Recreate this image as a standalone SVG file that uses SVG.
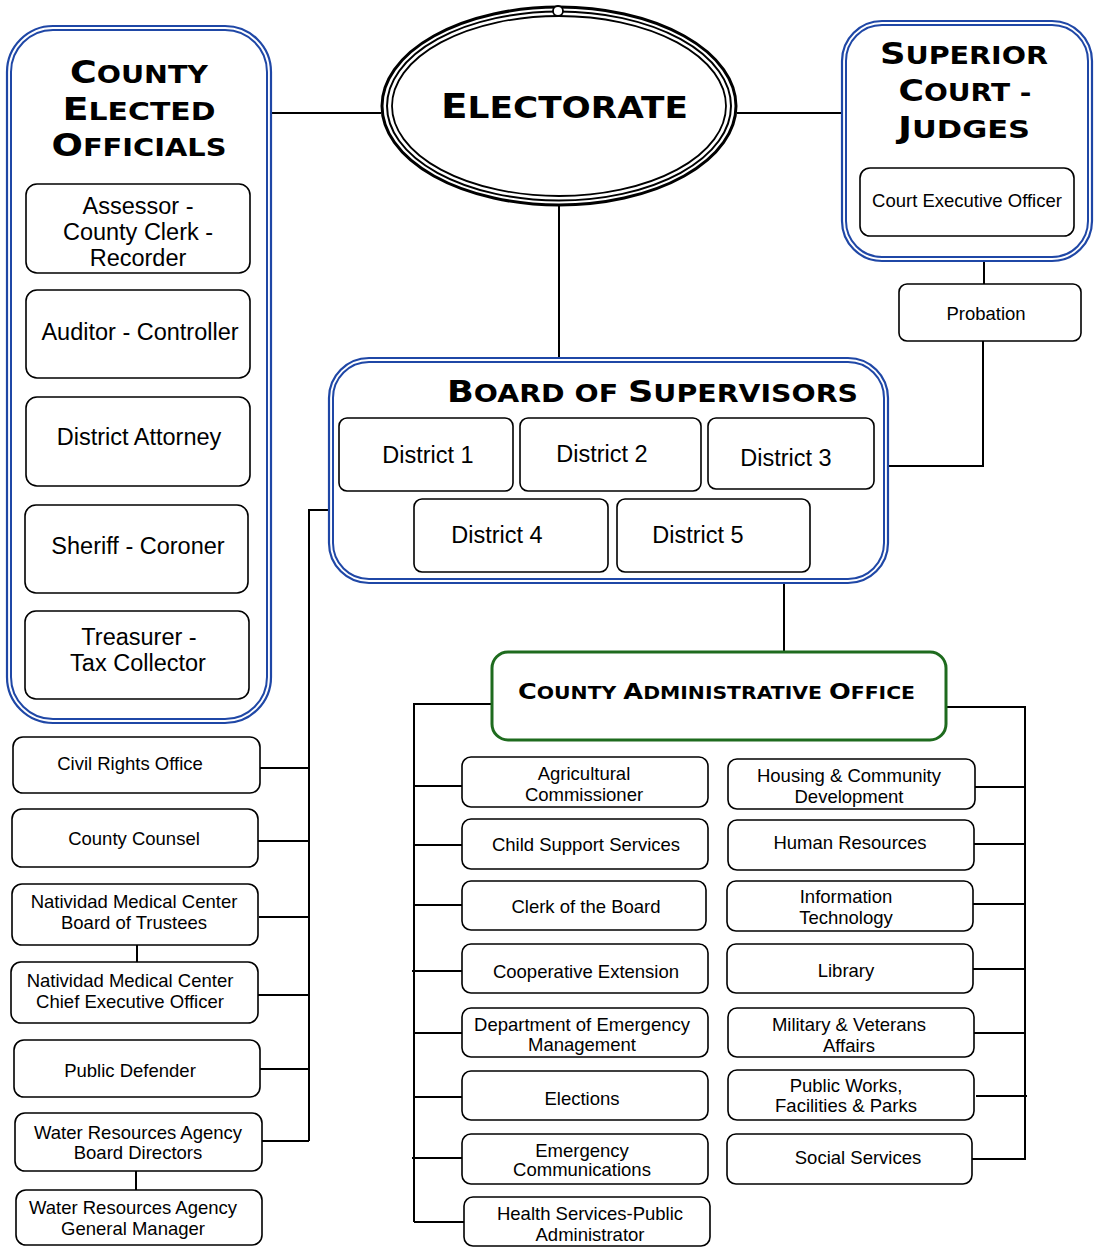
<svg xmlns="http://www.w3.org/2000/svg" width="1094" height="1247" viewBox="0 0 1094 1247">
<style>
.box{fill:#fff;stroke:#000;stroke-width:1.6}
.bo{fill:#fff;stroke:#1f47a6;stroke-width:2.2}
.bi{fill:none;stroke:#1f47a6;stroke-width:2}
.t{font-family:"Liberation Sans",Arial,sans-serif;font-size:18.5px;text-anchor:middle;fill:#000}
.tl{font-size:23.5px}
.h{font-family:"DejaVu Sans","Liberation Sans",sans-serif;font-weight:bold;text-anchor:middle;fill:#000}
.conn path{stroke:#000;stroke-width:2;fill:none}
</style>
<rect width="1094" height="1247" fill="#fff"/>

<g class="conn">
<path d="M272,113 H381"/>
<path d="M737,113 H841"/>
<path d="M559,205 V358"/>
<path d="M984,262 V284"/>
<path d="M983,341 V466 H889"/>
<path d="M784,584 V652"/>
<path d="M328,510 H309 V1141"/>
<path d="M260,768 H309"/>
<path d="M258,841 H309"/>
<path d="M259,917 H309"/>
<path d="M258,995 H309"/>
<path d="M260,1069 H309"/>
<path d="M262,1141 H309"/>
<path d="M137,945 V962"/>
<path d="M136,1171 V1190"/>
<path d="M492,704 H414 V1222"/>
<path d="M414,786 H462"/>
<path d="M414,845 H462"/>
<path d="M414,905 H462"/>
<path d="M412,971 H462"/>
<path d="M414,1033 H462"/>
<path d="M414,1097 H462"/>
<path d="M412,1158 H462"/>
<path d="M414,1222 H464"/>
<path d="M946,707 H1025 V1160"/>
<path d="M975,787 H1025"/>
<path d="M974,844 H1025"/>
<path d="M973,904 H1025"/>
<path d="M973,969 H1025"/>
<path d="M974,1033 H1025"/>
<path d="M976,1096 H1027"/>
<path d="M972,1159 H1025"/>
</g>

<g id="county-elected-officials">
<rect class="bo" x="7" y="26" width="264" height="697" rx="46"/>
<rect class="bi" x="11" y="30" width="256" height="689" rx="42"/>
<text class="h" x="139" y="83" textLength="138" lengthAdjust="spacingAndGlyphs"><tspan font-size="32">C</tspan><tspan font-size="25">OUNTY</tspan></text>
<text class="h" x="139" y="120" textLength="153" lengthAdjust="spacingAndGlyphs"><tspan font-size="32">E</tspan><tspan font-size="25">LECTED</tspan></text>
<text class="h" x="139" y="156" textLength="175" lengthAdjust="spacingAndGlyphs"><tspan font-size="32">O</tspan><tspan font-size="25">FFICIALS</tspan></text>
</g>
<g id="assessor">
<rect class="box" x="26" y="184" width="224" height="89" rx="11"/>
<text class="t tl" x="138" y="214">Assessor -</text>
<text class="t tl" x="138" y="240">County Clerk -</text>
<text class="t tl" x="138" y="266">Recorder</text>
</g>
<g id="auditor">
<rect class="box" x="26" y="290" width="224" height="88" rx="11"/>
<text class="t tl" x="140" y="340">Auditor - Controller</text>
</g>
<g id="district-attorney">
<rect class="box" x="26" y="397" width="224" height="89" rx="11"/>
<text class="t tl" x="139" y="445">District Attorney</text>
</g>
<g id="sheriff">
<rect class="box" x="25" y="505" width="223" height="88" rx="11"/>
<text class="t tl" x="138" y="554">Sheriff - Coroner</text>
</g>
<g id="treasurer">
<rect class="box" x="25" y="611" width="224" height="88" rx="11"/>
<text class="t tl" x="139" y="645">Treasurer -</text>
<text class="t tl" x="138" y="671">Tax Collector</text>
</g>

<g id="electorate">
<ellipse cx="559" cy="106" rx="177" ry="99" fill="#fff" stroke="#000" stroke-width="3"/>
<ellipse cx="559" cy="106" rx="172" ry="94.5" fill="none" stroke="#000" stroke-width="2"/>
<ellipse cx="559" cy="106" rx="167" ry="90" fill="none" stroke="#000" stroke-width="1.8"/>
<circle cx="558" cy="11" r="5" fill="#fff" stroke="#000" stroke-width="1.8"/>
<text class="h" x="564.5" y="118" textLength="247" lengthAdjust="spacingAndGlyphs"><tspan font-size="34">E</tspan><tspan font-size="30">LECTORATE</tspan></text>
</g>

<g id="superior-court">
<rect class="bo" x="842" y="21" width="250" height="240" rx="40"/>
<rect class="bi" x="846" y="25" width="242" height="232" rx="36"/>
<text class="h" x="964" y="64" textLength="168" lengthAdjust="spacingAndGlyphs"><tspan font-size="31">S</tspan><tspan font-size="25">UPERIOR</tspan></text>
<text class="h" x="965" y="101" textLength="133" lengthAdjust="spacingAndGlyphs"><tspan font-size="31">C</tspan><tspan font-size="25">OURT -</tspan></text>
<text class="h" x="964" y="138" textLength="132" lengthAdjust="spacingAndGlyphs"><tspan font-size="31">J</tspan><tspan font-size="25">UDGES</tspan></text>
</g>
<g id="court-executive-officer">
<rect class="box" x="860" y="168" width="214" height="68" rx="10"/>
<text class="t" x="967" y="207">Court Executive Officer</text>
</g>
<g id="probation">
<rect class="box" x="899" y="284" width="182" height="57" rx="8"/>
<text class="t" x="986" y="320">Probation</text>
</g>

<g id="board-of-supervisors">
<rect class="bo" x="329" y="358" width="559" height="225" rx="40"/>
<rect class="bi" x="333" y="362" width="551" height="217" rx="36"/>
<text class="h" x="652.5" y="402" textLength="411" lengthAdjust="spacingAndGlyphs"><tspan font-size="31">B</tspan><tspan font-size="25">OARD OF </tspan><tspan font-size="31">S</tspan><tspan font-size="25">UPERVISORS</tspan></text>
</g>
<g id="district-1"><rect class="box" x="339" y="418" width="174" height="73" rx="8"/><text class="t tl" x="428" y="463">District 1</text></g>
<g id="district-2"><rect class="box" x="520" y="418" width="181" height="73" rx="8"/><text class="t tl" x="602" y="462">District 2</text></g>
<g id="district-3"><rect class="box" x="708" y="418" width="166" height="71" rx="8"/><text class="t tl" x="786" y="466">District 3</text></g>
<g id="district-4"><rect class="box" x="414" y="499" width="194" height="73" rx="8"/><text class="t tl" x="497" y="543">District 4</text></g>
<g id="district-5"><rect class="box" x="617" y="499" width="193" height="73" rx="8"/><text class="t tl" x="698" y="543">District 5</text></g>

<g id="civil-rights"><rect class="box" x="13" y="737" width="247" height="56" rx="10"/><text class="t" x="130" y="770">Civil Rights Office</text></g>
<g id="county-counsel"><rect class="box" x="12" y="809" width="246" height="58" rx="10"/><text class="t" x="134" y="845">County Counsel</text></g>
<g id="nmc-board"><rect class="box" x="12" y="884" width="246" height="61" rx="10"/><text class="t" x="134" y="908">Natividad Medical Center</text><text class="t" x="134" y="929">Board of Trustees</text></g>
<g id="nmc-ceo"><rect class="box" x="11" y="962" width="247" height="61" rx="10"/><text class="t" x="130" y="987">Natividad Medical Center</text><text class="t" x="130" y="1008">Chief Executive Officer</text></g>
<g id="public-defender"><rect class="box" x="14" y="1040" width="246" height="57" rx="10"/><text class="t" x="130" y="1077">Public Defender</text></g>
<g id="wra-board"><rect class="box" x="15" y="1113" width="247" height="58" rx="10"/><text class="t" x="138" y="1139">Water Resources Agency</text><text class="t" x="138" y="1159">Board Directors</text></g>
<g id="wra-gm"><rect class="box" x="16" y="1190" width="246" height="55" rx="10"/><text class="t" x="133" y="1214">Water Resources Agency</text><text class="t" x="133" y="1235">General Manager</text></g>

<g id="cao">
<rect x="492" y="652" width="454" height="88" rx="16" fill="#fff" stroke="#1e6b1e" stroke-width="3"/>
<text class="h" x="716.5" y="699" textLength="397" lengthAdjust="spacingAndGlyphs"><tspan font-size="22">C</tspan><tspan font-size="17.5">OUNTY </tspan><tspan font-size="22">A</tspan><tspan font-size="17.5">DMINISTRATIVE </tspan><tspan font-size="22">O</tspan><tspan font-size="17.5">FFICE</tspan></text>
</g>

<g id="agricultural"><rect class="box" x="462" y="757" width="246" height="50" rx="9"/><text class="t" x="584" y="780">Agricultural</text><text class="t" x="584" y="801">Commissioner</text></g>
<g id="child-support"><rect class="box" x="462" y="819" width="246" height="50" rx="9"/><text class="t" x="586" y="851">Child Support Services</text></g>
<g id="clerk-board"><rect class="box" x="462" y="881" width="244" height="49" rx="9"/><text class="t" x="586" y="913">Clerk of the Board</text></g>
<g id="cooperative"><rect class="box" x="462" y="944" width="246" height="49" rx="9"/><text class="t" x="586" y="978">Cooperative Extension</text></g>
<g id="dem"><rect class="box" x="462" y="1008" width="246" height="49" rx="9"/><text class="t" x="582" y="1031">Department of Emergency</text><text class="t" x="582" y="1051">Management</text></g>
<g id="elections"><rect class="box" x="462" y="1071" width="246" height="49" rx="9"/><text class="t" x="582" y="1105">Elections</text></g>
<g id="emergency-comm"><rect class="box" x="462" y="1134" width="246" height="50" rx="9"/><text class="t" x="582" y="1157">Emergency</text><text class="t" x="582" y="1176">Communications</text></g>
<g id="health"><rect class="box" x="464" y="1197" width="246" height="49" rx="9"/><text class="t" x="590" y="1220">Health Services-Public</text><text class="t" x="590" y="1241">Administrator</text></g>

<g id="housing"><rect class="box" x="728" y="759" width="247" height="50" rx="9"/><text class="t" x="849" y="782">Housing &amp; Community</text><text class="t" x="849" y="803">Development</text></g>
<g id="human-resources"><rect class="box" x="728" y="820" width="246" height="50" rx="9"/><text class="t" x="850" y="849">Human Resources</text></g>
<g id="it"><rect class="box" x="727" y="881" width="246" height="50" rx="9"/><text class="t" x="846" y="903">Information</text><text class="t" x="846" y="924">Technology</text></g>
<g id="library"><rect class="box" x="727" y="944" width="246" height="49" rx="9"/><text class="t" x="846" y="977">Library</text></g>
<g id="military"><rect class="box" x="728" y="1008" width="246" height="49" rx="9"/><text class="t" x="849" y="1031">Military &amp; Veterans</text><text class="t" x="849" y="1052">Affairs</text></g>
<g id="public-works"><rect class="box" x="728" y="1070" width="246" height="50" rx="9"/><text class="t" x="846" y="1092">Public Works,</text><text class="t" x="846" y="1112">Facilities &amp; Parks</text></g>
<g id="social-services"><rect class="box" x="727" y="1134" width="245" height="50" rx="9"/><text class="t" x="858" y="1164">Social Services</text></g>
</svg>
